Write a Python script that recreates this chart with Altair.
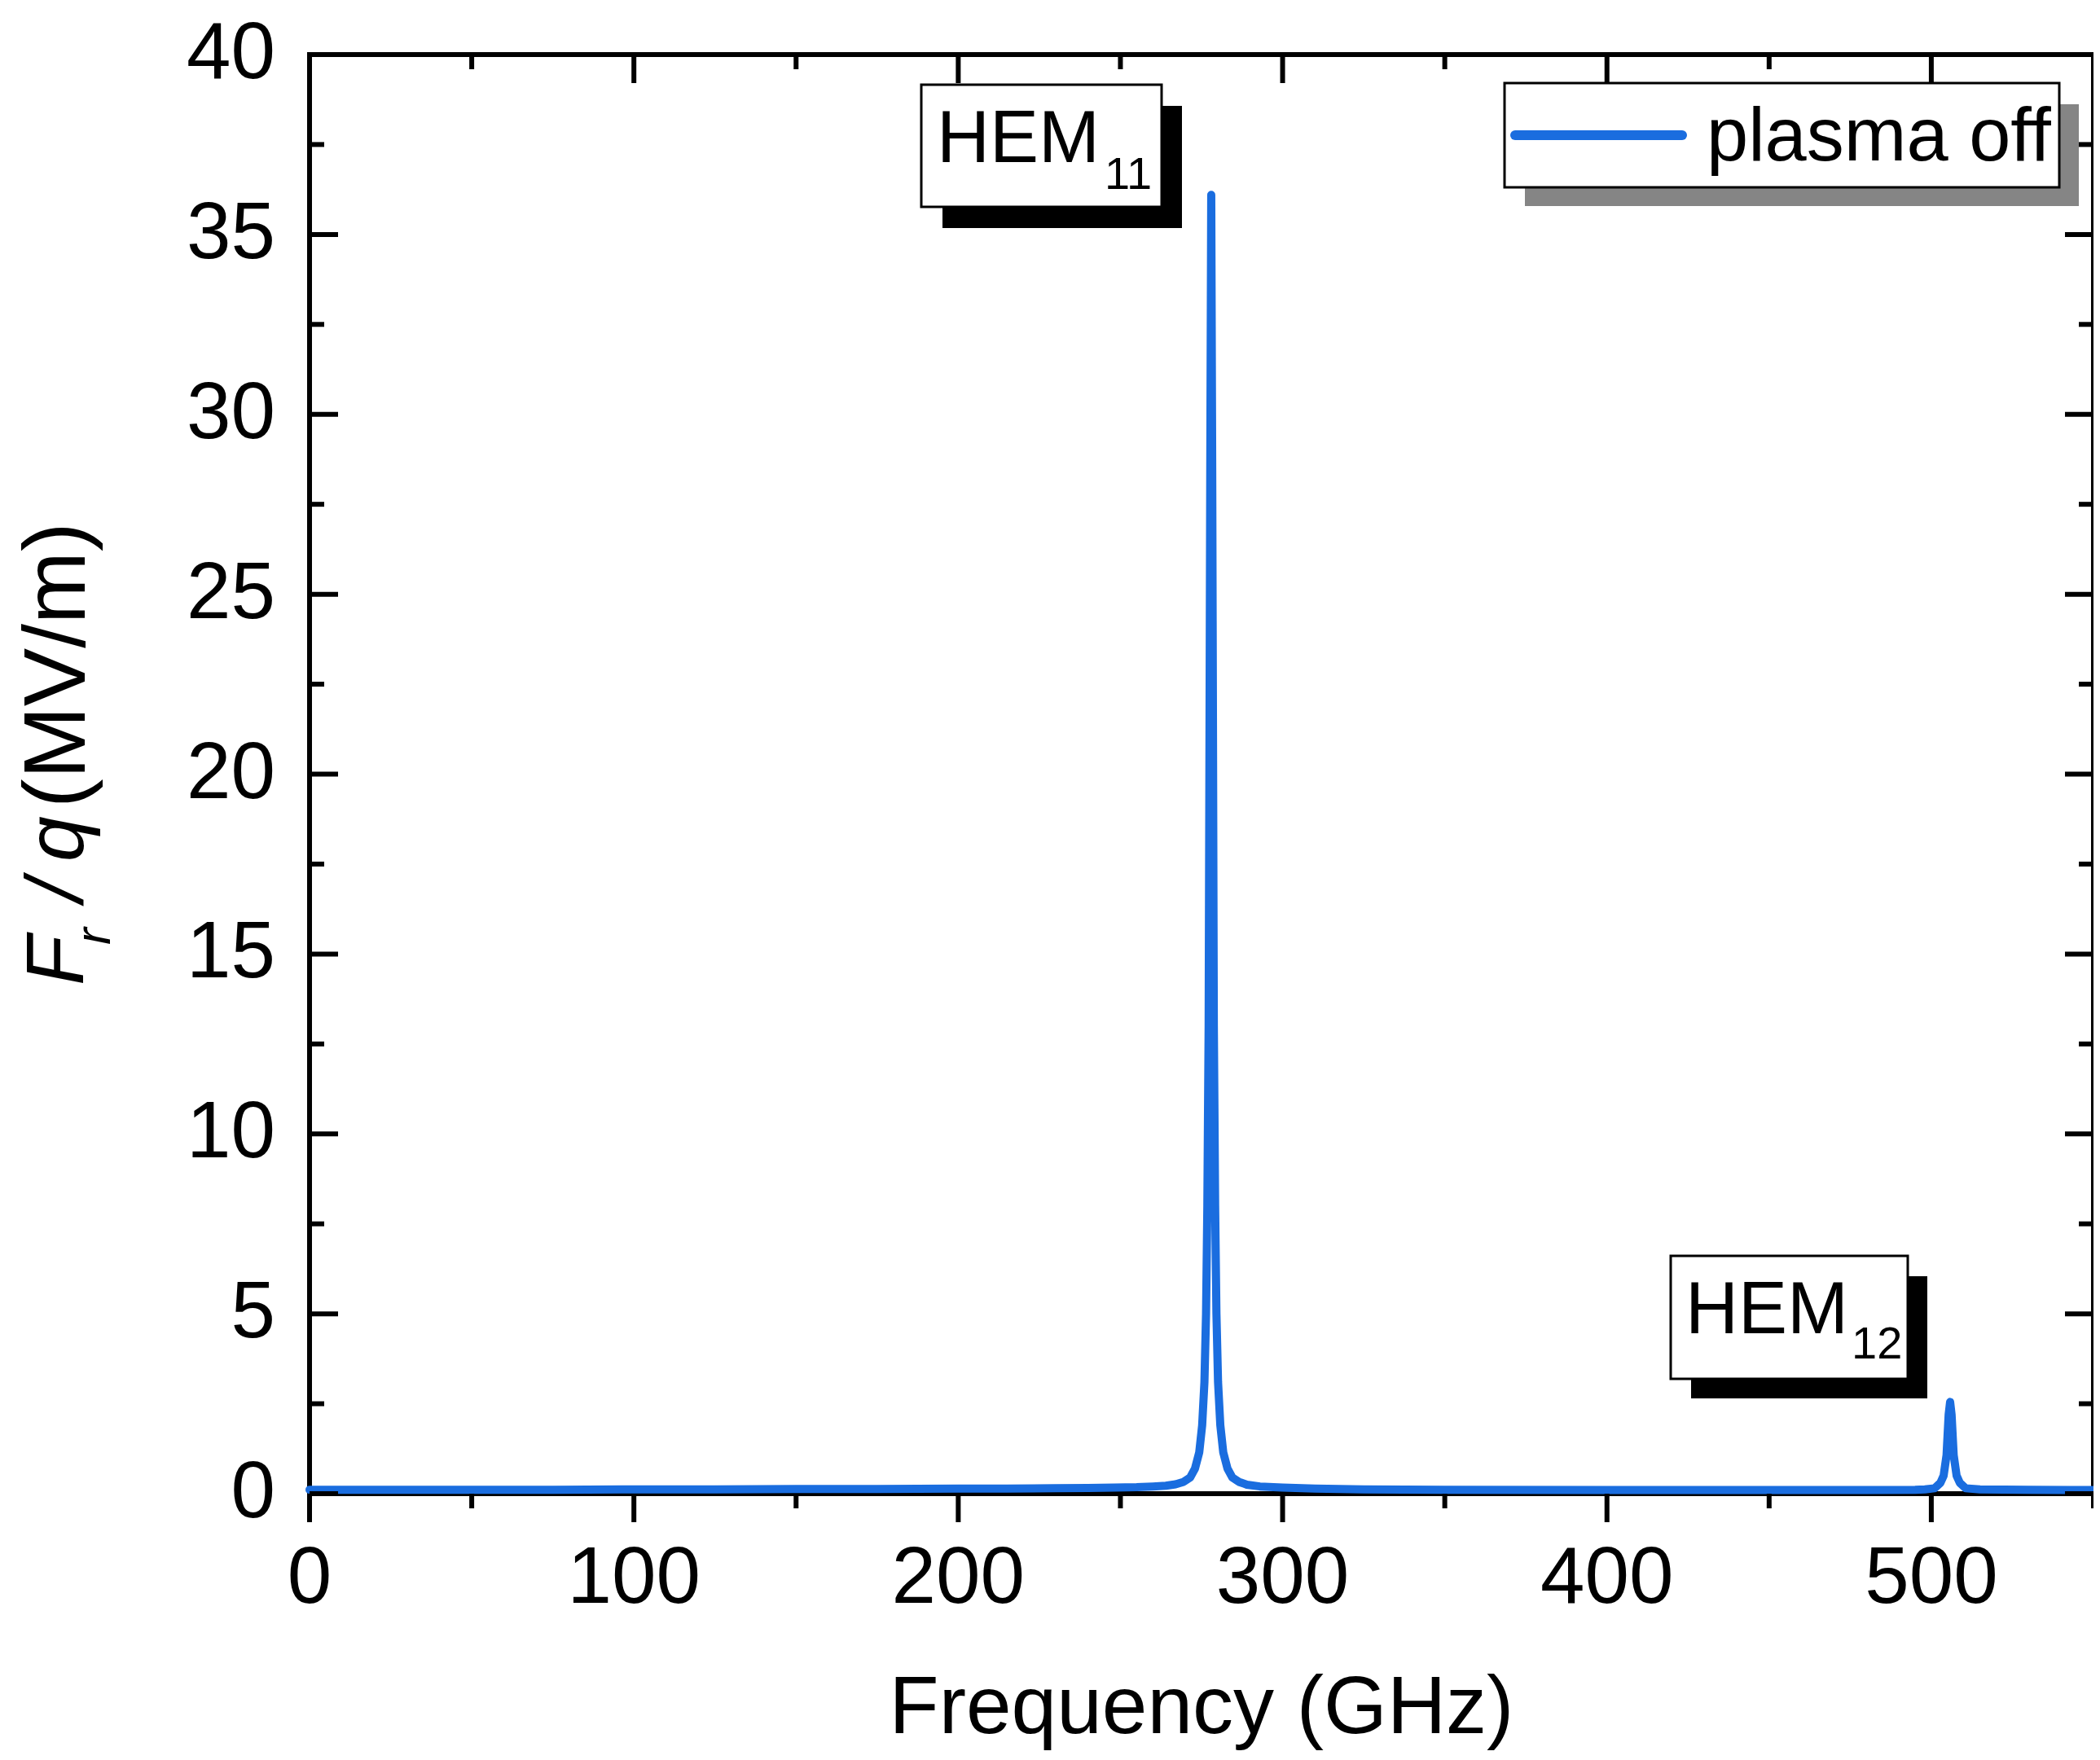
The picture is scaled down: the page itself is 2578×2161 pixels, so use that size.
import altair as alt
import pandas as pd

# ---------------- data ----------------
freq_ghz = [0, 25, 50, 75, 100, 125, 150, 175, 200, 215, 230, 240, 248, 255, 260,
            264, 267, 269.5, 271.5, 273.0, 274.3, 275.2, 275.9, 276.4, 276.8, 277.2,
            277.7, 278.0, 278.3, 278.8, 279.2, 279.6, 280.1, 280.8, 281.7, 283.0,
            284.5, 286.5, 289, 293, 300, 310, 325, 350, 400, 450, 480, 495, 498,
            501, 502.8, 503.8, 504.7, 505.35, 505.8, 506.25, 506.9, 507.8, 508.8,
            510.6, 515, 530, 550]
fr_q = [0.11, 0.11, 0.11, 0.11, 0.12, 0.12, 0.13, 0.13, 0.14, 0.14, 0.15, 0.16, 0.17, 0.18, 0.20,
        0.22, 0.26, 0.33, 0.45, 0.70, 1.15, 1.9, 3.1, 5.0, 8.0, 13.0,
        28.4, 36.1, 28.4, 13.0, 8.0, 5.0, 3.1, 1.9, 1.15, 0.70,
        0.45, 0.33, 0.25, 0.20, 0.17, 0.14, 0.12, 0.11, 0.10, 0.10, 0.10, 0.11, 0.12,
        0.15, 0.30, 0.50, 1.07, 2.2, 2.55, 2.2, 1.07, 0.50, 0.30,
        0.15, 0.12, 0.11, 0.10]

x_major = [0, 100, 200, 300, 400, 500]
x_minor = [50, 150, 250, 350, 450, 550]
y_major = [0, 5, 10, 15, 20, 25, 30, 35, 40]
y_minor = [2.5, 7.5, 12.5, 17.5, 22.5, 27.5, 32.5, 37.5]

series_name = "plasma off"
x_title = "Frequency (GHz)"
mode_labels = ["HEM", "HEM"]
mode_subs = ["11", "12"]

# ---------------- style ----------------
W, H = 2190, 1767
BLUE = "#1a6ddf"
FONT = "Liberation Sans"
TICK_W = 6
MAJ, MIN = 35, 18

xscale = alt.Scale(domain=[0, 550], nice=False, zero=False)
yscale = alt.Scale(domain=[0, 40], nice=False, zero=False)

one = pd.DataFrame({"a": [0]})

line = alt.Chart(pd.DataFrame({"f": freq_ghz, "v": fr_q})).mark_line(
    color=BLUE, strokeWidth=10, strokeJoin="round", strokeCap="round"
).encode(
    x=alt.X("f:Q", scale=xscale, axis=None),
    y=alt.Y("v:Q", scale=yscale, axis=None),
)

# tick labels drawn through the shared scales
xlabels = alt.Chart(pd.DataFrame({"f": x_major, "lab": [str(v) for v in x_major]})).mark_text(
    font=FONT, fontSize=98, color="black", align="center", baseline="top"
).encode(x=alt.X("f:Q", scale=xscale, axis=None), y=alt.value(H + 57), text="lab:N")

ylabels = alt.Chart(pd.DataFrame({"v": y_major, "lab": [str(v) for v in y_major]})).mark_text(
    font=FONT, fontSize=98, color="black", align="right", baseline="middle"
).encode(y=alt.Y("v:Q", scale=yscale, axis=None), x=alt.value(-42), text="lab:N")


def xticks(vals, y0, y1):
    return alt.Chart(pd.DataFrame({"f": vals})).mark_rule(
        color="black", strokeWidth=TICK_W).encode(
        x=alt.X("f:Q", scale=xscale, axis=None),
        y=alt.value(y0), y2=alt.value(y1))


def yticks(vals, x0, x1):
    return alt.Chart(pd.DataFrame({"v": vals})).mark_rule(
        color="black", strokeWidth=TICK_W).encode(
        y=alt.Y("v:Q", scale=yscale, axis=None),
        x=alt.value(x0), x2=alt.value(x1))


ticks = [
    xticks(x_major, H, H + MAJ), xticks(x_minor, H, H + MIN),
    xticks(x_major, 0, MAJ), xticks(x_minor, 0, MIN),
    yticks(y_major, 0, MAJ), yticks(y_minor, 0, MIN),
    yticks(y_major, W, W - MAJ), yticks(y_minor, W, W - MIN),
]


def box(x0, y0, x1, y1, fill, stroke=None, sw=0):
    kw = dict(fill=fill)
    if stroke:
        kw.update(stroke=stroke, strokeWidth=sw)
    return alt.Chart(one).mark_rect(**kw).encode(
        x=alt.value(x0), x2=alt.value(x1), y=alt.value(y0), y2=alt.value(y1))


def txt(s, x, y, size, style="normal", angle=0, align="left"):
    kw = dict(text=s, font=FONT, fontSize=size, fontStyle=style, color="black",
              align=align, baseline="alphabetic")
    if angle:
        kw["angle"] = angle
    return alt.Chart(one).mark_text(**kw).encode(x=alt.value(x), y=alt.value(y))


annotations = [
    # HEM11 box
    box(777, 63, 1071, 213, "black"),
    box(751, 37, 1046, 187, "white", "black", 3),
    txt(mode_labels[0], 770, 132, 90),
    txt(mode_subs[0], 976, 165, 56),
    # HEM12 box
    box(1696, 1500, 1986, 1650, "black"),
    box(1671, 1475, 1962, 1626, "white", "black", 3),
    txt(mode_labels[1], 1689, 1570, 90),
    txt(mode_subs[1], 1893, 1601, 56),
    # legend
    box(1492, 61, 2172, 186, "#858585"),
    box(1467, 35, 2148, 163, "white", "black", 3),
    alt.Chart(one).mark_rule(color=BLUE, strokeWidth=12, strokeCap="round").encode(
        x=alt.value(1480), x2=alt.value(1685), y=alt.value(99)),
    txt(series_name, 1715, 130, 92),
    # axis titles
    txt(x_title, W / 2, 2061, 100, align="center"),
    txt("F", -278, 1143, 100, style="italic", angle=270),
    txt("r", -245, 1093, 62, style="italic", angle=270),
    txt("/", -278, 1040, 100, style="italic", angle=270),
    txt("q", -278, 991, 100, style="italic", angle=270),
    txt("(MV/m)", -276, 925, 107, angle=270),
]

chart = alt.layer(line, xlabels, ylabels, *ticks, *annotations).properties(
    width=W, height=H,
    padding={"left": 372, "top": 59, "right": 0, "bottom": 317},
    autosize=alt.AutoSizeParams(type="none"),
).configure(background="white").configure_view(stroke="black", strokeWidth=6)

chart.save("out.html", embed_options={"renderer": "svg", "actions": False})
